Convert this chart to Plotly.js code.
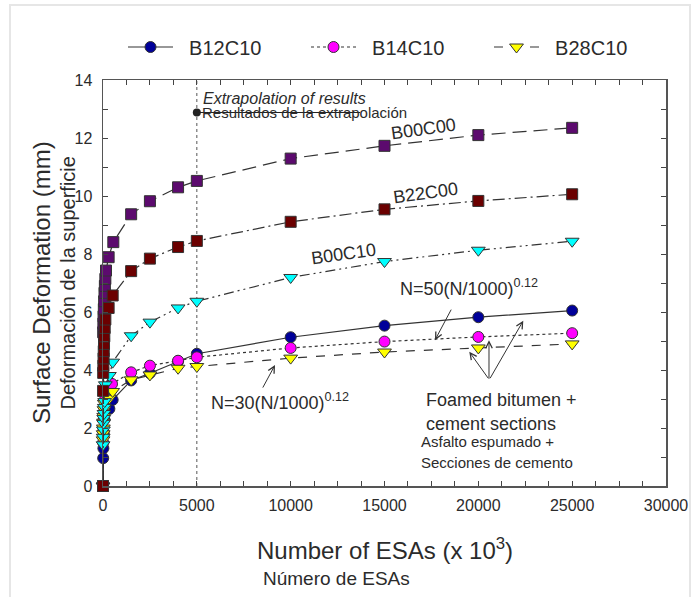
<!DOCTYPE html>
<html>
<head>
<meta charset="utf-8">
<script src="https://cdn.plot.ly/plotly-3.0.1.min.js"></script>
<style>
html,body{margin:0;padding:0;background:#fff;}
#wrap{position:relative;width:695px;height:597px;}
#chart{position:absolute;left:0;top:0;width:695px;height:597px;}
#frame{position:absolute;left:9px;top:4px;width:678px;height:600px;border:2px solid #e6e6e6;pointer-events:none;}
</style>
</head>
<body>
<div id="wrap"><div id="chart"></div><div id="frame"></div></div>
<script>
// ---- data (N in thousands of ESAs, deformation in mm) ----
const b12c10_x = [0, 10, 20, 40, 70, 340, 515, 1500, 2500, 4000, 5000, 10000, 15000, 20000, 25000];
const b12c10_y = [0, 0.96, 1.3, 1.8, 2.3, 2.66, 2.97, 3.64, 3.89, 4.3, 4.56, 5.13, 5.53, 5.82, 6.05];

const b14c10_x = [0, 10, 20, 40, 70, 125, 480, 1500, 2500, 4000, 5000, 10000, 15000, 20000, 25000];
const b14c10_y = [0, 1.5, 1.9, 2.3, 2.7, 3.03, 3.52, 3.92, 4.15, 4.32, 4.44, 4.76, 4.98, 5.14, 5.27];

const b28c10_x = [0, 5, 10, 20, 30, 40, 55, 70, 340, 515, 1500, 2500, 4000, 5000, 10000, 15000, 20000, 25000];
const b28c10_y = [0, 1.59, 1.8, 2.0, 2.2, 2.4, 2.63, 2.85, 3.03, 3.26, 3.66, 3.83, 4.06, 4.12, 4.41, 4.62, 4.76, 4.9];

const b00c10_x = [0, 5, 10, 20, 30, 40, 55, 70, 90, 125, 340, 515, 1500, 2500, 4000, 5000, 10000, 15000, 20000, 25000];
const b00c10_y = [0, 1.42, 1.68, 1.93, 2.16, 2.33, 2.5, 2.71, 2.91, 3.49, 3.81, 4.27, 5.18, 5.65, 6.14, 6.37, 7.19, 7.74, 8.13, 8.44];

const b00c00_x = [0, 10, 20, 30, 45, 60, 80, 100, 125, 160, 300, 550, 1500, 2500, 4000, 5000, 10000, 15000, 20000, 25000];
const b00c00_y = [0, 5.3, 5.6, 5.85, 6.1, 6.37, 6.66, 6.9, 7.14, 7.43, 7.89, 8.41, 9.37, 9.82, 10.3, 10.52, 11.29, 11.73, 12.1, 12.35];

const b22c00_x = [0, 5, 10, 20, 30, 40, 55, 70, 90, 125, 300, 515, 1500, 2500, 4000, 5000, 10000, 15000, 20000, 25000];
const b22c00_y = [0, 3.28, 3.9, 4.15, 4.4, 4.65, 4.9, 5.16, 5.45, 5.74, 6.14, 6.57, 7.41, 7.84, 8.24, 8.45, 9.11, 9.54, 9.83, 10.06];

// extrapolation marker / line
const extrapX = [5000, 13700];
const extrapY = [12.88, 12.88];
const extrapLineX = 5000;

const xTickVals = [0, 5000, 10000, 15000, 20000, 25000, 30000];
const xTickText = ['0', '5000', '10000', '15000', '20000', '25000', '30000'];

// ---- styling ----
const FONT = 'Liberation Sans, Arial, sans-serif';
const TXT = '#2b2b2b';
const LINEC = '#333333';
const PAD = '\u00a0\u00a0';

function tr(name, x, y, lineDash, sym, color, size, show) {
  return {
    type: 'scatter', mode: 'lines+markers', name: name, x: x, y: y,
    showlegend: show, cliponaxis: false,
    line: {color: LINEC, width: 1.2, dash: lineDash},
    marker: {symbol: sym, size: size, color: color, line: {color: '#333', width: 1}}
  };
}

const data = [
  tr(PAD + 'B12C10', b12c10_x, b12c10_y, 'solid', 'circle', '#000099', 11, true),
  tr(PAD + 'B14C10', b14c10_x, b14c10_y, 'dot', 'circle', '#ff00ff', 11, true),
  tr(PAD + 'B28C10', b28c10_x, b28c10_y, 'dash', 'triangle-down', '#ffff00', 12, true),
  tr('B00C10', b00c10_x, b00c10_y, '10px,4px,2px,4px,2px,4px', 'triangle-down', '#00ffff', 12, false),
  tr('B00C00', b00c00_x, b00c00_y, '14px,7px', 'square', '#5c0a6e', 11, false),
  tr('B22C00', b22c00_x, b22c00_y, '12px,4px,2px,4px', 'square', '#6b0000', 11, false),
  {type: 'scatter', mode: 'lines', x: extrapX, y: extrapY, showlegend: false,
   line: {color: '#222', width: 1.2}, hoverinfo: 'skip'},
  {type: 'scatter', mode: 'markers', x: [extrapX[0]], y: [extrapY[0]], showlegend: false,
   marker: {color: '#222', size: 8}, hoverinfo: 'skip'}
];

function arrow(hx, hy, ax, ay) {
  return {x: hx, y: hy, xref: 'x', yref: 'y', text: '', showarrow: true,
          ax: ax, ay: ay, arrowhead: 5, arrowsize: 1.3, arrowwidth: 1, arrowcolor: '#333'};
}
function label(x, y, text, size, opts) {
  return Object.assign({x: x, y: y, xref: 'x', yref: 'y', text: text, showarrow: false,
          font: {family: FONT, size: size, color: TXT}}, opts || {});
}

const annotations = [
  label(5200, 13.36, '<i>Extrapolation of results</i>', 16, {xanchor: 'left'}),
  label(5150, 12.88, 'Resultados de la extrapolación', 15, {xanchor: 'left'}),
  label(17100, 12.3, 'B00C00', 18, {textangle: -8}),
  label(17200, 10.1, 'B22C00', 18, {textangle: -8}),
  label(12800, 8.0, 'B00C10', 18, {textangle: -8}),
  label(19500, 6.85, 'N=50(N/1000)<sup>0.12</sup>', 18),
  label(9430, 2.9, 'N=30(N/1000)<sup>0.12</sup>', 18),
  label(17100, 2.95, 'Foamed bitumen +', 18, {xanchor: 'left'}),
  label(17100, 2.15, 'cement sections', 18, {xanchor: 'left'}),
  label(16850, 1.52, 'Asfalto espumado +', 15, {xanchor: 'left'}),
  label(16850, 0.8, 'Secciones de cemento', 15, {xanchor: 'left'}),
  arrow(17690, 5.03, 17, -32),
  arrow(9165, 4.17, -13, 24),
  arrow(19518, 4.63, 20, 28),
  arrow(20568, 5.03, 0, 40),
  arrow(22395, 5.70, -34, 59),
  // axis titles
  {xref: 'paper', yref: 'paper', x: -0.11, y: 0.5, text: 'Surface Deformation (mm)', textangle: -90,
   showarrow: false, font: {family: FONT, size: 24, color: TXT}, xanchor: 'center', yanchor: 'middle'},
  {xref: 'paper', yref: 'paper', x: -0.063, y: 0.5, text: 'Deformación de la superficie', textangle: -90,
   showarrow: false, font: {family: FONT, size: 20, color: TXT}, xanchor: 'center', yanchor: 'middle'},
  {xref: 'paper', yref: 'paper', x: 0.5, y: -0.155, text: 'Number of ESAs (x 10<sup>3</sup>)',
   showarrow: false, font: {family: FONT, size: 24, color: TXT}, xanchor: 'center', yanchor: 'middle'},
  {xref: 'paper', yref: 'paper', x: 0.28, y: -0.229, text: 'Número de ESAs',
   showarrow: false, font: {family: FONT, size: 19, color: TXT}, xanchor: 'left', yanchor: 'middle'}
];

const axisCommon = {
  showgrid: false, zeroline: false, showline: true, linecolor: '#555', linewidth: 1.5,
  mirror: 'allticks', ticks: 'inside', ticklen: 5, tickwidth: 1, tickcolor: '#444',
  tickfont: {family: FONT, size: 16, color: TXT}
};

const layout = {
  width: 695, height: 597,
  margin: {l: 103, r: 29, t: 80, b: 111},
  paper_bgcolor: '#ffffff', plot_bgcolor: '#ffffff',
  font: {family: FONT, color: TXT},
  showlegend: true,
  legend: {orientation: 'h', xref: 'container', yref: 'container', x: 123/695, y: 1 - 47/597,
           xanchor: 'left', yanchor: 'middle', font: {family: FONT, size: 20, color: TXT},
           entrywidth: 123, itemwidth: 45, bgcolor: 'rgba(0,0,0,0)'},
  xaxis: Object.assign({}, axisCommon, {range: [0, 30000], tickvals: xTickVals, ticktext: xTickText,
          minor: {dtick: 1250, tick0: 0, ticks: 'inside', ticklen: 5, tickcolor: '#444'}, ticklabelstandoff: 4}),
  yaxis: Object.assign({}, axisCommon, {range: [0, 14], dtick: 2, tick0: 0,
          minor: {dtick: 1, tick0: 0, ticks: 'inside', ticklen: 5, tickcolor: '#444'}, ticklabelstandoff: 6}),
  shapes: [
    {type: 'line', xref: 'x', yref: 'y', x0: extrapLineX, x1: extrapLineX, y0: 0, y1: 14,
     line: {color: '#555', width: 1, dash: 'dot'}, layer: 'below'}
  ],
  annotations: annotations
};

Plotly.newPlot('chart', data, layout, {displayModeBar: false, staticPlot: true});
</script>
</body>
</html>
